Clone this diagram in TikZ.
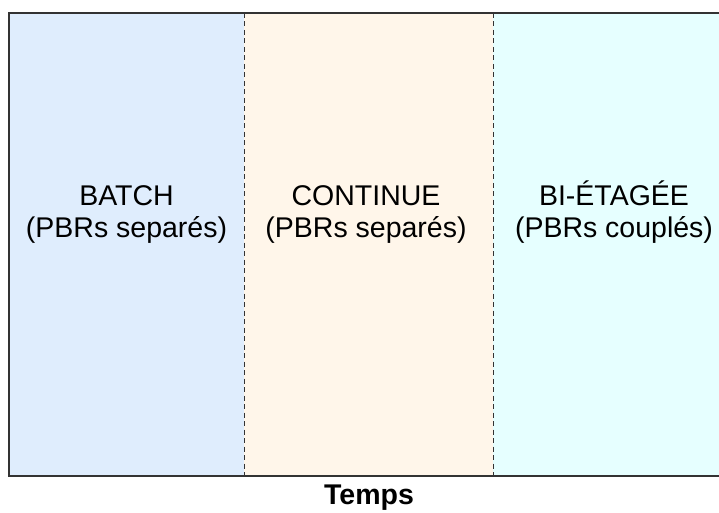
\documentclass[tikz,border=0pt]{standalone}
\usepackage{fontspec}
\setmainfont{Liberation Sans}
\definecolor{pblue}{HTML}{DFEDFD}
\definecolor{porange}{HTML}{FFF6EA}
\definecolor{pcyan}{HTML}{E6FFFF}
\definecolor{edge}{HTML}{333333}
\begin{document}
\begin{tikzpicture}[x=1pt,y=1pt,
  lab/.style={align=center,font=\fontsize{28.5}{32}\selectfont,text=black},
  divider/.style={draw=edge,line width=1pt,dash pattern=on 5pt off 3.5pt}]
\useasboundingbox (0,0) rectangle (719,512);
\clip (0,0) rectangle (719,512);
\fill[white] (0,0) rectangle (719,512);
\fill[pblue] (9,36) rectangle (244,499);
\fill[porange] (244,36) rectangle (493,499);
\fill[pcyan] (493,36) rectangle (740,499);
\draw[edge,line width=1.6pt] (740,499) -- (9,499) -- (9,36) -- (740,36);
\coordinate (d1t) at (244,499); \coordinate (d1b) at (244,36);
\coordinate (d2t) at (493,499); \coordinate (d2b) at (493,36);
\draw[divider] (d1t) -- (d1b);
\draw[divider] (d2t) -- (d2b);
\node[lab] (batch) at (126.5,300) {\vphantom{É}BATCH\\(PBRs separés)};
\node[lab] (cont) at (366,300) {\vphantom{É}CONTINUE\\(PBRs separés)};
\node[lab] (bi) at (614,300) {BI-ÉTAGÉE\\(PBRs couplés)};
\node[font=\fontsize{28.5}{32}\selectfont\bfseries] (temps) at (369,14) {Temps};
\end{tikzpicture}
\end{document}
